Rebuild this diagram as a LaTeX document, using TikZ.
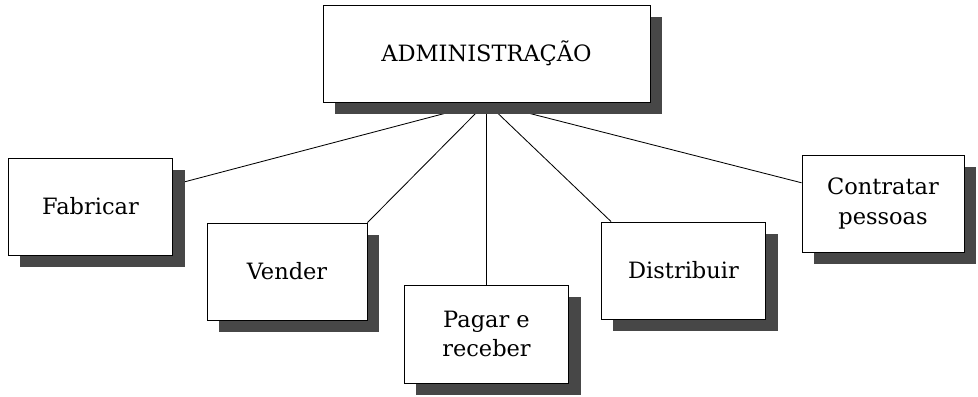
\documentclass[tikz,border=0pt]{standalone}
\usepackage{fontspec}
\setmainfont{DejaVu Serif}
\usepackage{tikz}
\usetikzlibrary{shadows,backgrounds,positioning}
\tikzset{
  orgbox/.style={rectangle, draw=black, line width=0.6pt, fill=white, align=center,
    minimum width=4.1cm, minimum height=2.425cm, font=\fontsize{16}{21}\selectfont,
    drop shadow={shadow xshift=0.3cm, shadow yshift=-0.3cm, fill=black!72, opacity=1}},
  topbox/.style={orgbox, minimum width=8.175cm},
  link/.style={draw=black, line width=0.6pt},
}
\begin{document}
\begin{tikzpicture}[x=0.025cm, y=-0.025cm]
  \useasboundingbox (0,0) rectangle (978,396);
  \node[topbox] (adm) at (486.5,53.5) {ADMINISTRAÇÃO};
  \node[orgbox] (fab) at (90.5,206.5) {Fabricar};
  \node[orgbox, minimum width=4.0cm] (vend) at (287,271.5) {Vender};
  \node[orgbox, minimum height=2.45cm] (pag) at (486.5,334) {Pagar e\\receber};
  \node[orgbox] (dist) at (683.5,270.5) {Distribuir};
  \node[orgbox, minimum width=4.05cm] (contr) at (883,203.5) {Contratar\\pessoas};
  % relations
  \begin{scope}[on background layer]
    \draw[link] (adm.south) -- (fab);
    \draw[link] (adm.south) -- (vend.north east);
    \draw[link] (adm.south) -- (pag.north);
    \draw[link] (adm.south) -- ([xshift=0.25cm]dist.north west);
    \draw[link] (adm.south) -- (contr);
  \end{scope}
\end{tikzpicture}
\end{document}
